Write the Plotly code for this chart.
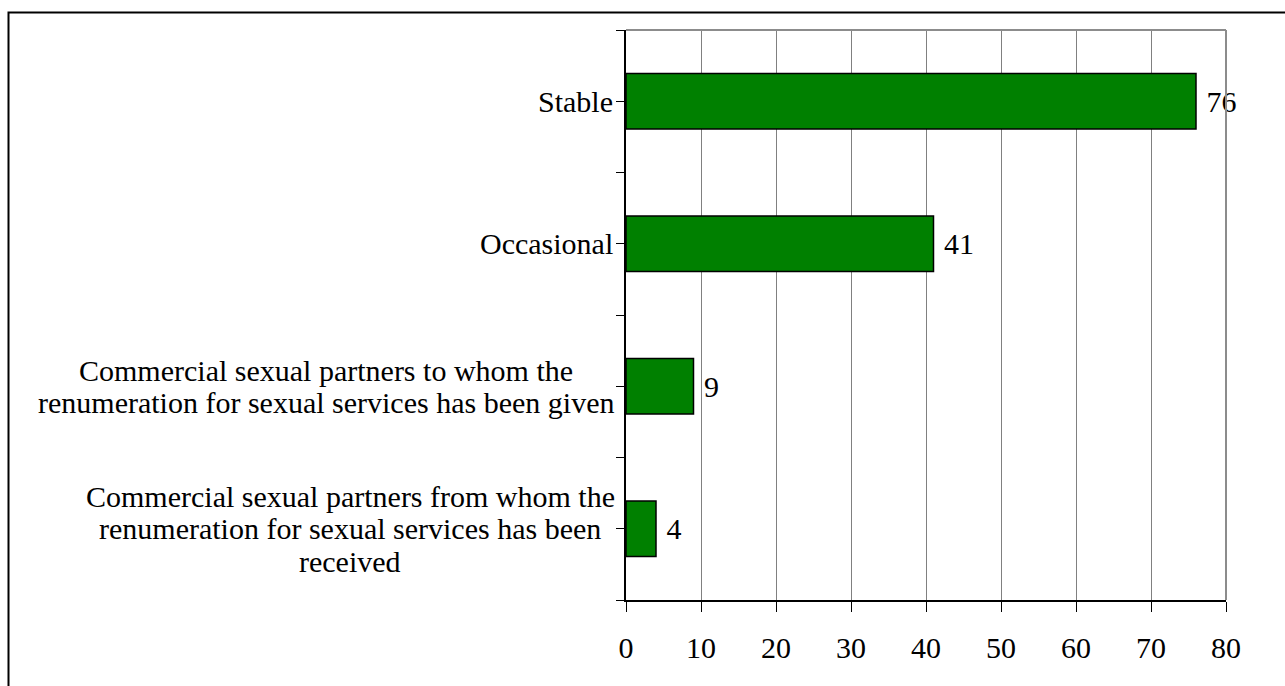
import plotly.graph_objects as go

# Partner categories, listed top to bottom
categories = [
    "Stable",
    "Occasional",
    "Commercial sexual partners to whom the renumeration for sexual services has been given",
    "Commercial sexual partners from whom the renumeration for sexual services has been received",
]
# Wrapped form of each category label
label_lines = [
    ["Stable"],
    ["Occasional"],
    ["Commercial sexual partners to whom the",
     "renumeration for sexual services has been given"],
    ["Commercial sexual partners from whom the",
     "renumeration for sexual services has been",
     "received"],
]
values = [76, 41, 9, 4]
x_ticks = [0, 10, 20, 30, 40, 50, 60, 70, 80]

FONT = "Liberation Serif"
FS = 30
W, H = 1285, 686
ML, MR, MT, MB = 626, 59, 30, 86
plot_w = W - ML - MR
plot_h = H - MT - MB

positions = list(range(len(categories)))
# ticks on every category centre and every boundary between categories
y_tickvals = sorted(set([p for p in positions] + [p - 0.5 for p in positions] + [positions[-1] + 0.5]))

fig = go.Figure(
    go.Bar(
        x=values,
        y=positions,
        orientation="h",
        width=0.39,
        marker=dict(color="#008000", line=dict(color="black", width=1.5)),
        text=[str(v) for v in values],
        texttemplate=" %{text}",
        textposition="outside",
        textfont=dict(family=FONT, size=FS, color="black"),
        constraintext="none",
        cliponaxis=False,
        hoverinfo="skip",
    )
)

# Category labels: each line as its own annotation for tighter line spacing
label_center_shift = [None, None, -300, -276]
line_step = 32.5
annotations = []
for i, lines in enumerate(label_lines):
    n = len(lines)
    for j, line in enumerate(lines):
        ann = dict(
            text=line,
            xref="paper",
            yref="y",
            x=0,
            y=positions[i],
            yshift=((n - 1) / 2 - j) * line_step,
            showarrow=False,
            font=dict(family=FONT, size=FS, color="black"),
            yanchor="middle",
        )
        if label_center_shift[i] is None:
            ann.update(xanchor="right", xshift=-11)
        else:
            ann.update(xanchor="center", xshift=label_center_shift[i])
        annotations.append(ann)

def px_x(p):
    return (p - ML) / plot_w

def px_y(p):
    return 1 - (p - MT) / plot_h

shapes = [
    # grey frame on top and right of the plot area
    dict(type="line", xref="paper", yref="paper", x0=0, x1=1, y0=1, y1=1,
         line=dict(color="#8c8c8c", width=2), layer="above"),
    dict(type="line", xref="paper", yref="paper", x0=1, x1=1, y0=0, y1=1,
         line=dict(color="#8c8c8c", width=2), layer="above"),
    # outer chart border
    dict(type="rect", xref="paper", yref="paper",
         x0=px_x(8.5), x1=px_x(W + 20), y0=px_y(H + 20), y1=px_y(12.5),
         line=dict(color="black", width=2), fillcolor="rgba(0,0,0,0)", layer="below"),
]

fig.update_layout(
    width=W,
    height=H,
    margin=dict(l=ML, r=MR, t=MT, b=MB, pad=0),
    paper_bgcolor="white",
    plot_bgcolor="white",
    showlegend=False,
    font=dict(family=FONT, size=FS, color="black"),
    annotations=annotations,
    shapes=shapes,
    xaxis=dict(
        range=[0, 80],
        tickmode="array",
        tickvals=x_ticks,
        ticktext=[str(t) for t in x_ticks],
        showgrid=True,
        gridcolor="#808080",
        gridwidth=1,
        zeroline=False,
        showline=True,
        linecolor="black",
        linewidth=1.5,
        ticks="outside",
        ticklen=10,
        tickcolor="black",
        tickwidth=1,
        ticklabelstandoff=10,
        tickfont=dict(family=FONT, size=FS, color="black"),
    ),
    yaxis=dict(
        range=[positions[-1] + 0.5, positions[0] - 0.5],
        tickmode="array",
        tickvals=y_tickvals,
        showticklabels=False,
        showgrid=False,
        zeroline=False,
        showline=True,
        linecolor="black",
        linewidth=1.5,
        ticks="outside",
        ticklen=8,
        tickcolor="black",
        tickwidth=1,
    ),
)

fig.write_html("out.html")
